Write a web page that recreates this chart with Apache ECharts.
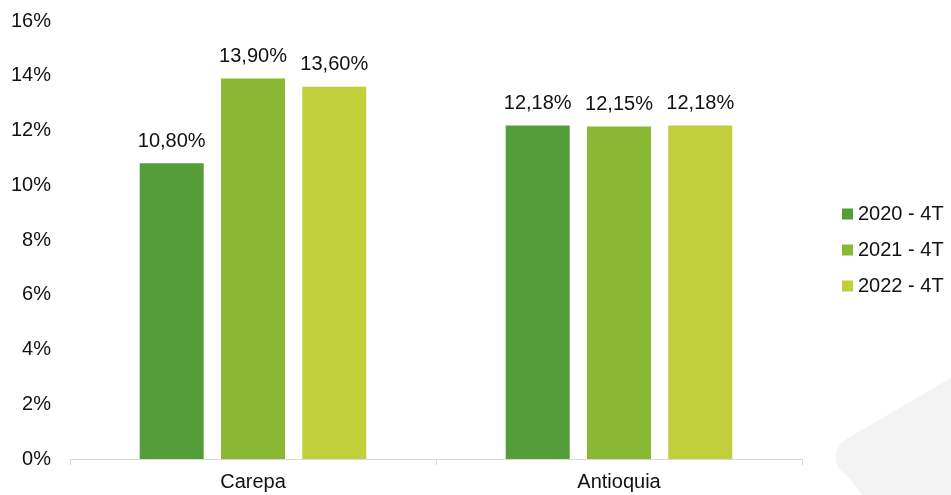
<!DOCTYPE html>
<html>
<head>
<meta charset="utf-8">
<script src="https://cdn.jsdelivr.net/npm/echarts@6/dist/echarts.min.js"></script>
<style>
  html, body { margin: 0; padding: 0; background: #fff; }
  #chart { width: 951px; height: 495px; }
</style>
</head>
<body>
<div id="chart"></div>
<script>
const categories = ['Carepa', 'Antioquia']
const seriesNames = ['2020 - 4T', '2021 - 4T', '2022 - 4T']
const values2020 = [10.80, 12.18]
const values2021 = [13.90, 12.15]
const values2022 = [13.60, 12.18]
const colors = ['#549E39', '#8AB833', '#C0CF3A']

const font = 'Liberation Sans, Arial, sans-serif'
const fmt = v => v.toFixed(2).replace('.', ',') + '%'

function makeSeries(name, data, color) {
  return {
    name,
    type: 'bar',
    data,
    barWidth: 64,
    barGap: '27%',
    itemStyle: { color },
    label: {
      show: true,
      position: 'top',
      distance: 12,
      color: '#111',
      fontFamily: font,
      fontSize: 20,
      formatter: p => fmt(p.value)
    }
  }
}

const chart = echarts.init(document.getElementById('chart'))
chart.setOption({
  animation: false,
  textStyle: { fontFamily: font },
  // faint decorative shape in the bottom-right corner
  graphic: [{
    type: 'polygon',
    z: -10,
    shape: {
      points: [[951, 378], [848, 438], [840, 444], [836, 452], [836, 462], [840, 470], [850, 479], [862, 495], [951, 495]]
    },
    style: { fill: '#f3f3f3' }
  }],
  grid: { left: 70, right: 149, top: 21, bottom: 36, containLabel: false },
  legend: {
    orient: 'vertical',
    left: 842,
    top: 204,
    padding: 0,
    itemWidth: 11,
    itemHeight: 11,
    itemGap: 16,
    icon: 'rect',
    textStyle: { fontFamily: font, fontSize: 20, lineHeight: 20, color: '#111', padding: [0, 0, 0, 0] },
    data: seriesNames
  },
  xAxis: {
    type: 'category',
    data: categories,
    axisLine: { lineStyle: { color: '#d9d9d9', width: 1 } },
    axisTick: { show: true, length: 6, lineStyle: { color: '#d9d9d9' } },
    axisLabel: { color: '#111', fontSize: 20, fontFamily: font, margin: 13 }
  },
  yAxis: {
    type: 'value',
    min: 0,
    max: 16,
    interval: 2,
    axisLine: { show: false },
    axisTick: { show: false },
    splitLine: { show: false },
    axisLabel: {
      color: '#111',
      fontSize: 20,
      fontFamily: font,
      margin: 19,
      formatter: v => v + '%'
    }
  },
  series: [
    makeSeries(seriesNames[0], values2020, colors[0]),
    makeSeries(seriesNames[1], values2021, colors[1]),
    makeSeries(seriesNames[2], values2022, colors[2])
  ]
})
</script>
</body>
</html>
